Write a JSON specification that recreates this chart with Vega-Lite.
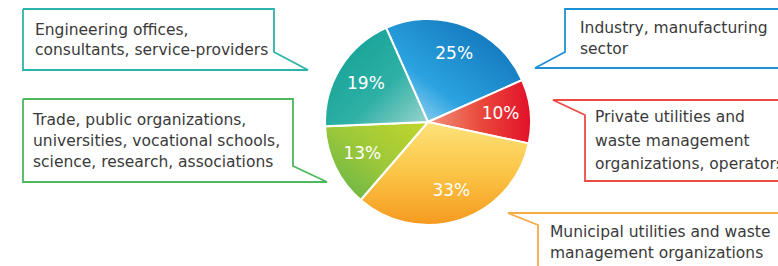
{
  "$schema": "https://vega.github.io/schema/vega-lite/v6.json",
  "width": 778,
  "height": 266,
  "padding": 0,
  "autosize": {"type": "none"},
  "background": "white",
  "config": {"view": {"stroke": null}},
  "datasets": {
    "shares": [
      {"key": "industry", "sector": "Industry, manufacturing sector", "share": 0.25, "order": 1},
      {"key": "private", "sector": "Private utilities and waste management organizations, operators", "share": 0.10, "order": 2},
      {"key": "municipal", "sector": "Municipal utilities and waste management organizations", "share": 0.33, "order": 3},
      {"key": "trade", "sector": "Trade, public organizations, universities, vocational schools, science, research, associations", "share": 0.13, "order": 4},
      {"key": "engineering", "sector": "Engineering offices, consultants, service-providers", "share": 0.19, "order": 5}
    ],
    "outlines": [
      {"c": "engineering", "i": 0, "x": 23, "y": 9},
      {"c": "engineering", "i": 1, "x": 274, "y": 9},
      {"c": "engineering", "i": 2, "x": 274, "y": 52},
      {"c": "engineering", "i": 3, "x": 308, "y": 70},
      {"c": "engineering", "i": 4, "x": 23, "y": 70},
      {"c": "engineering", "i": 5, "x": 23, "y": 9},
      {"c": "trade", "i": 0, "x": 23, "y": 99},
      {"c": "trade", "i": 1, "x": 293, "y": 99},
      {"c": "trade", "i": 2, "x": 293, "y": 166},
      {"c": "trade", "i": 3, "x": 327, "y": 182},
      {"c": "trade", "i": 4, "x": 23, "y": 182},
      {"c": "trade", "i": 5, "x": 23, "y": 99},
      {"c": "industry", "i": 0, "x": 800, "y": 9},
      {"c": "industry", "i": 1, "x": 565, "y": 9},
      {"c": "industry", "i": 2, "x": 565, "y": 52},
      {"c": "industry", "i": 3, "x": 535, "y": 68},
      {"c": "industry", "i": 4, "x": 800, "y": 68},
      {"c": "private", "i": 0, "x": 800, "y": 100},
      {"c": "private", "i": 1, "x": 553, "y": 100},
      {"c": "private", "i": 2, "x": 585, "y": 115},
      {"c": "private", "i": 3, "x": 585, "y": 181},
      {"c": "private", "i": 4, "x": 800, "y": 181},
      {"c": "municipal", "i": 0, "x": 800, "y": 213},
      {"c": "municipal", "i": 1, "x": 508, "y": 213},
      {"c": "municipal", "i": 2, "x": 538, "y": 225},
      {"c": "municipal", "i": 3, "x": 538, "y": 290}
    ],
    "captions": [
      {"c": "engineering", "text": "Engineering offices,", "x": 35, "y": 30},
      {"c": "engineering", "text": "consultants, service-providers", "x": 35, "y": 50},
      {"c": "trade", "text": "Trade, public organizations,", "x": 33, "y": 120},
      {"c": "trade", "text": "universities, vocational schools,", "x": 33, "y": 141},
      {"c": "trade", "text": "science, research, associations", "x": 33, "y": 162},
      {"c": "industry", "text": "Industry, manufacturing", "x": 580, "y": 28},
      {"c": "industry", "text": "sector", "x": 580, "y": 49},
      {"c": "private", "text": "Private utilities and", "x": 595, "y": 117},
      {"c": "private", "text": "waste management", "x": 595, "y": 141},
      {"c": "private", "text": "organizations, operators", "x": 595, "y": 164},
      {"c": "municipal", "text": "Municipal utilities and waste", "x": 550, "y": 232},
      {"c": "municipal", "text": "management organizations", "x": 550, "y": 253}
    ]
  },
  "layer": [
    {
      "data": {"name": "shares"},
      "mark": {"type": "arc", "outerRadius": 103, "stroke": "white", "strokeWidth": 2},
      "encoding": {
        "x": {"datum": 428, "type": "quantitative", "scale": {"domain": [0, 778], "nice": false, "zero": false}, "axis": null},
        "y": {"datum": 122, "type": "quantitative", "scale": {"domain": [0, 266], "nice": false, "zero": false, "reverse": true}, "axis": null},
        "theta": {"field": "share", "type": "quantitative", "stack": true, "scale": {"domain": [0, 1], "range": [-0.419, 5.864]}},
        "order": {"field": "order"},
        "fill": {
          "condition": [
            {"test": "datum.key === 'industry'", "value": {"gradient": "linear", "x1": 0, "y1": 1, "x2": 1, "y2": 0, "stops": [{"offset": 0, "color": "#c4e6f6"}, {"offset": 0.35, "color": "#2ba3e0"}, {"offset": 1, "color": "#0a68b0"}]}},
            {"test": "datum.key === 'private'", "value": {"gradient": "linear", "x1": 0, "y1": 0.5, "x2": 1, "y2": 0.5, "stops": [{"offset": 0, "color": "#f1937a"}, {"offset": 0.5, "color": "#ea4a3c"}, {"offset": 1, "color": "#e2102a"}]}},
            {"test": "datum.key === 'municipal'", "value": {"gradient": "linear", "x1": 0.5, "y1": 0, "x2": 0.5, "y2": 1, "stops": [{"offset": 0, "color": "#fde27a"}, {"offset": 0.5, "color": "#fbc445"}, {"offset": 1, "color": "#f59a1f"}]}},
            {"test": "datum.key === 'trade'", "value": {"gradient": "linear", "x1": 1, "y1": 0, "x2": 0, "y2": 1, "stops": [{"offset": 0, "color": "#c2d62a"}, {"offset": 0.5, "color": "#9cc83a"}, {"offset": 1, "color": "#5fb14a"}]}}
          ],
          "value": {"gradient": "linear", "x1": 1, "y1": 1, "x2": 0, "y2": 0, "stops": [{"offset": 0, "color": "#9fd6d0"}, {"offset": 0.4, "color": "#2fb0a5"}, {"offset": 1, "color": "#0c9e92"}]}
        }
      }
    },
    {
      "data": {"name": "shares"},
      "mark": {"type": "text", "radius": 73, "fill": "white", "font": "DejaVu Sans", "fontSize": 17, "align": "center", "baseline": "middle"},
      "encoding": {
        "x": {"datum": 428, "type": "quantitative"},
        "y": {"datum": 122, "type": "quantitative"},
        "theta": {"field": "share", "type": "quantitative", "stack": true},
        "order": {"field": "order"},
        "text": {"field": "share", "type": "quantitative", "format": ".0%"}
      }
    },
    {
      "data": {"name": "outlines"},
      "mark": {"type": "line", "strokeWidth": 1.8, "strokeJoin": "miter", "clip": true},
      "encoding": {
        "x": {"field": "x", "type": "quantitative"},
        "y": {"field": "y", "type": "quantitative"},
        "detail": {"field": "c"},
        "order": {"field": "i"},
        "color": {"field": "c", "type": "nominal", "legend": null, "scale": {"domain": ["engineering", "trade", "industry", "private", "municipal"], "range": ["#2db4a8", "#4cb85c", "#1f8fd6", "#ee4a44", "#f8aa45"]}}
      }
    },
    {
      "data": {"name": "captions"},
      "mark": {"type": "text", "align": "left", "baseline": "middle", "font": "DejaVu Sans", "fontSize": 15.5, "fill": "#3a3a3a"},
      "encoding": {
        "x": {"field": "x", "type": "quantitative"},
        "y": {"field": "y", "type": "quantitative"},
        "text": {"field": "text"}
      }
    }
  ]
}
